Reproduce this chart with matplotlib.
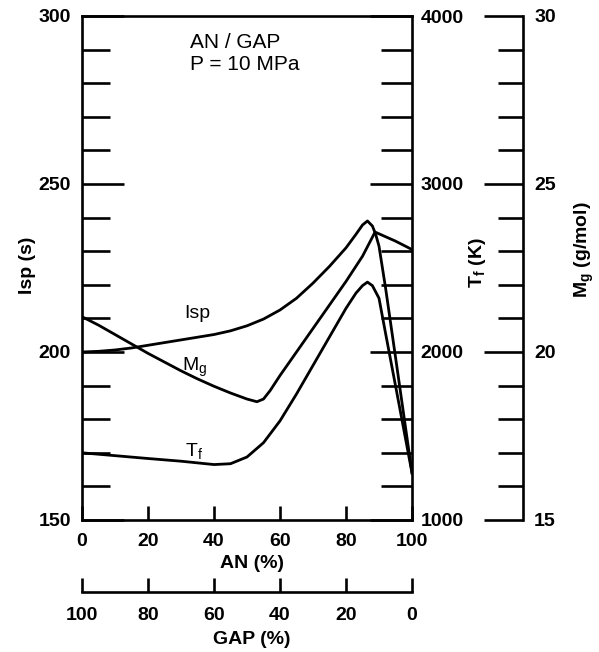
import matplotlib
matplotlib.use('Agg')
import matplotlib.pyplot as plt
from matplotlib.ticker import MultipleLocator, FixedLocator

plt.rcParams['font.family'] = ['Liberation Sans', 'DejaVu Sans']
plt.rcParams['mathtext.fontset'] = 'custom'
plt.rcParams['mathtext.rm'] = 'Liberation Sans'
plt.rcParams['mathtext.it'] = 'Liberation Sans'
plt.rcParams['mathtext.bf'] = 'Liberation Sans:bold'
plt.rcParams['mathtext.default'] = 'regular'

# ---------------- data ----------------
an_isp = [0, 5, 10, 15, 20, 25, 30, 35, 40, 45, 50, 55, 60, 65, 70, 75, 80, 83, 85,
          86.5, 88, 89, 90, 92, 95, 100]
isp_s = [200.0, 200.2, 200.6, 201.2, 202.0, 202.8, 203.6, 204.4, 205.2, 206.3, 207.8,
         209.8, 212.5, 216.0, 220.5, 225.5, 231.0, 235.0, 237.8, 239.0, 237.5, 235.0,
         231.5, 219.0, 198.5, 164.0]

an_mg = [0, 5, 10, 15, 20, 25, 30, 35, 40, 45, 50, 53, 55, 57, 60, 65, 70, 75, 80, 85,
         88.8, 95, 100]
mg_gmol = [21.05, 20.80, 20.52, 20.24, 19.96, 19.70, 19.44, 19.20, 18.98, 18.78, 18.60,
           18.52, 18.60, 18.85, 19.30, 20.00, 20.70, 21.40, 22.10, 22.85, 23.57, 23.30,
           23.05]

an_tf = [0, 10, 20, 30, 35, 40, 45, 50, 55, 60, 65, 70, 75, 80, 83, 85, 86.5, 88, 90,
         92, 95, 100]
tf_k = [1400, 1383, 1366, 1350, 1340, 1330, 1335, 1375, 1460, 1590, 1750, 1920, 2090,
        2260, 2350, 2395, 2416, 2395, 2320, 2110, 1800, 1280]

an_ticks = [0, 20, 40, 60, 80, 100]
gap_ticks = [100, 80, 60, 40, 20, 0]
isp_ticks = [150, 200, 250, 300]
tf_ticks = [1000, 2000, 3000, 4000]
mg_ticks = [15, 20, 25, 30]

# ---------------- layout ----------------
W, H = 599, 652
L, R, T, B = 82, 412, 16, 520
MG_X = 523
LW = 1.9
TICKFS = 14

fig = plt.figure(figsize=(W / 100, H / 100), dpi=100)
ax = fig.add_axes([L / W, 1 - B / H, (R - L) / W, (B - T) / H])

ax.plot(an_isp, isp_s, color='black', lw=2.0, solid_joinstyle='round')
ax.set_xlim(0, 100)
ax.set_ylim(150, 300)
ax.set_xticks(an_ticks)
ax.set_xticklabels([str(v) for v in an_ticks])
ax.set_yticks(isp_ticks)
ax.set_yticklabels([str(v) for v in isp_ticks])
ax.yaxis.set_minor_locator(MultipleLocator(10))
ax.tick_params(axis='x', direction='in', length=10, width=LW, pad=9,
               labelsize=TICKFS, top=False)
ax.tick_params(axis='y', which='major', direction='in', length=30, width=LW, pad=8,
               labelsize=TICKFS, right=False)
ax.tick_params(axis='y', which='minor', direction='in', length=20, width=LW, right=False)
for lab in ax.get_xticklabels() + ax.get_yticklabels():
    lab.set_fontweight('bold')
for s in ['left', 'bottom', 'top']:
    ax.spines[s].set_linewidth(LW)
ax.spines['right'].set_visible(False)

# Tf axis
tax = ax.twinx()
tax.plot(an_tf, tf_k, color='black', lw=2.0, solid_joinstyle='round')
tax.set_ylim(1000, 4000)
tax.set_yticks(tf_ticks)
tax.set_yticklabels([str(v) for v in tf_ticks])
tax.yaxis.set_minor_locator(MultipleLocator(200))
tax.tick_params(axis='y', which='major', direction='in', length=30, width=LW, pad=6,
                labelsize=TICKFS)
tax.tick_params(axis='y', which='minor', direction='in', length=22, width=LW)
for lab in tax.get_yticklabels():
    lab.set_fontweight('bold')
for s in ['left', 'bottom', 'top']:
    tax.spines[s].set_visible(False)
tax.spines['right'].set_linewidth(LW)

# Mg axis
max_ = ax.twinx()
max_.plot(an_mg, mg_gmol, color='black', lw=2.0, solid_joinstyle='round')
max_.set_ylim(15, 30)
max_.spines['right'].set_position(('axes', (MG_X - L) / (R - L)))
max_.set_yticks(mg_ticks)
max_.set_yticklabels([str(v) for v in mg_ticks])
max_.yaxis.set_minor_locator(MultipleLocator(1))
max_.tick_params(axis='y', which='major', direction='in', length=28, width=LW, pad=8,
                 labelsize=TICKFS)
max_.tick_params(axis='y', which='minor', direction='in', length=18, width=LW)
for lab in max_.get_yticklabels():
    lab.set_fontweight('bold')
for s in ['left', 'bottom', 'top']:
    max_.spines[s].set_visible(False)
max_.spines['right'].set_linewidth(LW)

# GAP axis (secondary x axis below)
sec = ax.secondary_xaxis(-(592 - B) / (B - T), functions=(lambda x: 100 - x, lambda x: 100 - x))
sec.set_xticks(gap_ticks)
sec.set_xticklabels([str(v) for v in gap_ticks])
sec.xaxis.set_minor_locator(FixedLocator([0, 100]))
sec.tick_params(axis='x', which='major', direction='in', length=10, width=LW, pad=11,
                labelsize=TICKFS)
sec.tick_params(axis='x', which='minor', direction='in', length=15, width=LW)
for lab in sec.get_xticklabels():
    lab.set_fontweight('bold')
sec.spines['bottom'].set_linewidth(LW)

# annotations inside the plot
ax.text(32.7, 294.8, 'AN / GAP\nP = 10 MPa', ha='left', va='top', fontsize=15,
        linespacing=1.2)
ax.text(35.0, 211.5, 'Isp', ha='center', va='center', fontsize=14)
ax.text(30.3, 195.5, 'M$_g$', ha='left', va='center', fontsize=14)
ax.text(31.2, 170.5, 'T$_f$', ha='left', va='center', fontsize=14)

# axis titles
fig.text(27 / W, 1 - 265 / H, 'Isp (s)', rotation=90, ha='center', va='center',
         fontsize=14, fontweight='bold')
fig.text(477 / W, 1 - 263 / H, 'T$_f$ (K)', rotation=90, ha='center', va='center',
         fontsize=14, fontweight='bold')
fig.text(584 / W, 1 - 250 / H, 'M$_g$ (g/mol)', rotation=90, ha='center', va='center',
         fontsize=14, fontweight='bold')
fig.text(252 / W, 1 - 563 / H, 'AN (%)', ha='center', va='center', fontsize=14,
         fontweight='bold')
fig.text(252 / W, 1 - 640 / H, 'GAP (%)', ha='center', va='center', fontsize=14,
         fontweight='bold')

fig.savefig('out.png', dpi=100)
